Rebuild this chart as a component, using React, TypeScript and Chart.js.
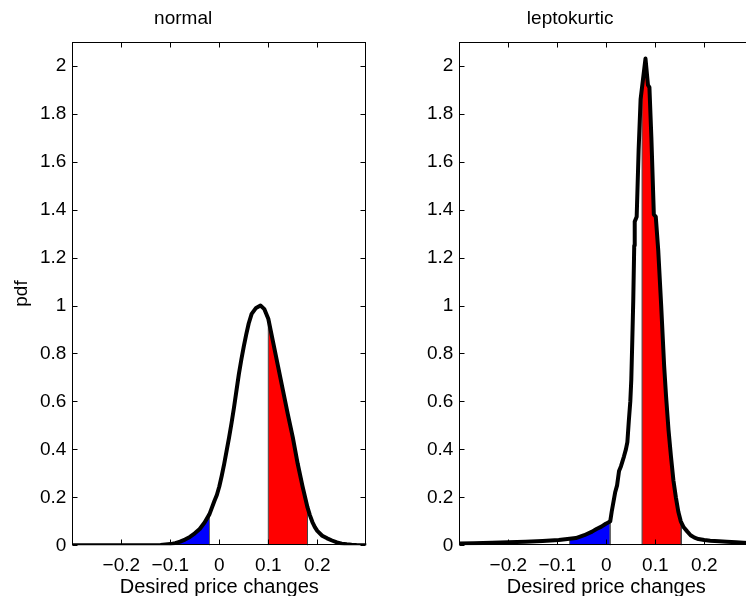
import React, { useEffect, useRef } from 'react';
import { Chart, registerables } from 'chart.js';

Chart.register(...registerables);

// ---- data ----
const titles = ['normal', 'leptokurtic'];
const xLabel = 'Desired price changes';
const yLabel = 'pdf';
const xTicks = [-0.2, -0.1, 0, 0.1, 0.2];
const yTicks = [0, 0.2, 0.4, 0.6, 0.8, 1, 1.2, 1.4, 1.6, 1.8, 2];

const normX = [-0.3, -0.2, -0.15, -0.12, -0.11, -0.1, -0.09, -0.08, -0.07, -0.06, -0.05, -0.04, -0.03, -0.02, -0.01, -0.005, 0, 0.005, 0.01, 0.015, 0.02, 0.025, 0.03, 0.035, 0.04, 0.045, 0.05, 0.055, 0.06, 0.066, 0.075, 0.084, 0.092, 0.1, 0.105, 0.11, 0.115, 0.12, 0.13, 0.14, 0.15, 0.16, 0.17, 0.18, 0.185, 0.19, 0.195, 0.2, 0.21, 0.22, 0.23, 0.24, 0.25, 0.26, 0.27, 0.28, 0.3];
const normY = [0, 0, 0, 0.001, 0.003, 0.005, 0.009, 0.015, 0.024, 0.035, 0.05, 0.068, 0.095, 0.13, 0.185, 0.21, 0.245, 0.29, 0.34, 0.395, 0.45, 0.51, 0.575, 0.645, 0.715, 0.775, 0.83, 0.88, 0.925, 0.965, 0.99, 1.0, 0.985, 0.945, 0.895, 0.845, 0.795, 0.745, 0.645, 0.545, 0.45, 0.34, 0.245, 0.158, 0.125, 0.097, 0.076, 0.06, 0.04, 0.029, 0.02, 0.012, 0.007, 0.004, 0.002, 0.001, 0];

const leptoX = [-0.3, -0.27, -0.233, -0.2, -0.165, -0.13, -0.097, -0.075, -0.062, -0.045, -0.029, -0.02, -0.01, -0.001, 0.004, 0.008, 0.011, 0.018, 0.022, 0.026, 0.03, 0.036, 0.04, 0.043, 0.046, 0.049, 0.051, 0.053, 0.055, 0.057, 0.058, 0.062, 0.066, 0.07, 0.08, 0.085, 0.088, 0.092, 0.097, 0.101, 0.106, 0.112, 0.118, 0.122, 0.127, 0.132, 0.137, 0.142, 0.147, 0.152, 0.158, 0.165, 0.172, 0.18, 0.188, 0.2, 0.212, 0.23, 0.246, 0.265, 0.28, 0.3];
const leptoY = [0.008, 0.009, 0.011, 0.013, 0.015, 0.018, 0.022, 0.027, 0.03, 0.042, 0.057, 0.068, 0.078, 0.09, 0.095, 0.1, 0.14, 0.22, 0.25, 0.31, 0.33, 0.37, 0.4, 0.43, 0.52, 0.6, 0.69, 0.85, 1.02, 1.25, 1.35, 1.37, 1.65, 1.86, 2.03, 1.92, 1.91, 1.7, 1.38, 1.37, 1.23, 1.0, 0.75, 0.62, 0.48, 0.37, 0.27, 0.2, 0.14, 0.1, 0.075, 0.058, 0.042, 0.032, 0.026, 0.022, 0.019, 0.017, 0.015, 0.013, 0.011, 0.009];

const normBlue = [-0.1, -0.02];
const normRed = [0.1, 0.18];
const leptoBlue = [-0.075, 0.008];
const leptoRed = [0.073, 0.153];

const FONT = 'Liberation Sans, Arial, Helvetica, sans-serif';

function interp(xs: number[], ys: number[], x: number): number {
  for (let i = 0; i < xs.length - 1; i++) {
    if (x >= xs[i] && x <= xs[i + 1]) {
      const t = (x - xs[i]) / (xs[i + 1] - xs[i]);
      return ys[i] + t * (ys[i + 1] - ys[i]);
    }
  }
  return 0;
}

function region(xs: number[], ys: number[], r: number[]) {
  const [a, b] = r;
  const pts: { x: number; y: number }[] = [{ x: a, y: 0 }, { x: a, y: interp(xs, ys, a) }];
  xs.forEach((x, i) => {
    if (x > a && x < b) pts.push({ x, y: ys[i] });
  });
  pts.push({ x: b, y: interp(xs, ys, b) }, { x: b, y: 0 });
  return pts;
}

const boxPlugin = {
  id: 'matlabBox',
  afterDraw(chart: any) {
    const { ctx, chartArea: a, scales } = chart;
    ctx.save();
    ctx.strokeStyle = '#000';
    ctx.lineWidth = 1;
    const L = Math.round(a.left) + 0.5;
    const R = Math.round(a.right) - 0.5;
    const T = Math.round(a.top) + 0.5;
    const B = Math.round(a.bottom) - 0.5;
    ctx.strokeRect(L, T, R - L, B - T);
    ctx.beginPath();
    for (const t of scales.x.ticks) {
      const px = Math.round(scales.x.getPixelForValue(t.value)) + 0.5;
      ctx.moveTo(px, B); ctx.lineTo(px, B - 5);
      ctx.moveTo(px, T); ctx.lineTo(px, T + 5);
    }
    for (const t of scales.y.ticks) {
      const py = Math.round(scales.y.getPixelForValue(t.value)) + 0.5;
      ctx.moveTo(L, py); ctx.lineTo(L + 5, py);
      ctx.moveTo(R, py); ctx.lineTo(R - 5, py);
    }
    ctx.stroke();
    ctx.restore();
  },
};

function fmtX(v: number) {
  if (Math.abs(v) < 1e-9) return '0';
  return (v < 0 ? '\u2212' : '') + Math.abs(v).toFixed(1);
}
function fmtY(v: number) {
  return String(Number(v.toFixed(1)));
}

function makeConfig(title: string, xs: number[], ys: number[], blue: number[], red: number[], showYLabel: boolean): any {
  const font = { family: FONT, size: 19, weight: 'normal' as const };
  return {
    type: 'line',
    data: {
      datasets: [
        {
          data: xs.map((x, i) => ({ x, y: ys[i] })),
          borderColor: '#000',
          borderWidth: 4,
          pointRadius: 0,
          tension: 0,
          fill: false,
          borderJoinStyle: 'round',
          borderCapStyle: 'round',
        },
        {
          data: region(xs, ys, red),
          borderColor: '#444',
          borderWidth: 1,
          backgroundColor: '#ff0000',
          pointRadius: 0,
          tension: 0,
          fill: 'origin',
        },
        {
          data: region(xs, ys, blue),
          borderColor: '#666',
          borderWidth: 1,
          backgroundColor: '#0000ff',
          pointRadius: 0,
          tension: 0,
          fill: 'origin',
        },
      ],
    },
    options: {
      responsive: false,
      animation: false,
      events: [],
      layout: { padding: { left: 0, right: 3.7, top: 0, bottom: 0 } },
      plugins: {
        legend: { display: false },
        tooltip: { enabled: false },
        title: {
          display: true,
          text: title,
          color: '#000',
          font,
          padding: { top: 7, bottom: 12 },
        },
      },
      scales: {
        x: {
          type: 'linear',
          min: -0.3,
          max: 0.3,
          afterBuildTicks: (s: any) => { s.ticks = xTicks.map((v) => ({ value: v })); },
          afterFit: (s: any) => { s.height = 50.7; },
          ticks: { callback: (v: any) => fmtX(Number(v)), color: '#000', font, padding: 9, autoSkip: false, maxRotation: 0 },
          grid: { display: false, drawTicks: false },
          border: { display: false },
          title: { display: true, text: xLabel, color: '#000', font: { ...font, size: 20, lineHeight: 0.85 }, padding: { top: 0, bottom: 0 } },
        },
        y: {
          type: 'linear',
          min: 0,
          max: 2.1,
          afterBuildTicks: (s: any) => { s.ticks = yTicks.map((v) => ({ value: v })); },
          afterFit: (s: any) => { s.width = 72.3; },
          ticks: { callback: (v: any) => fmtY(Number(v)), color: '#000', font, padding: 6, autoSkip: false },
          grid: { display: false, drawTicks: false },
          border: { display: false },
          title: { display: showYLabel, text: yLabel, color: '#000', font, padding: { top: 10.5, bottom: 0 } },
        },
      },
    },
    plugins: [boxPlugin],
  };
}

function Panel(props: { left: number; cfg: any }) {
  const ref = useRef<HTMLCanvasElement | null>(null);
  useEffect(() => {
    if (!ref.current) return;
    const chart = new Chart(ref.current, props.cfg);
    return () => chart.destroy();
  }, []);
  return (
    <canvas
      ref={ref}
      width={370}
      height={596}
      style={{ position: 'absolute', left: props.left, top: 0, width: 370, height: 596 }}
    />
  );
}

export default function App() {
  return (
    <div style={{ position: 'fixed', left: 0, top: 0, width: 746, height: 596, overflow: 'hidden', background: '#fff' }}>
      <Panel left={0} cfg={makeConfig(titles[0], normX, normY, normBlue, normRed, true)} />
      <Panel left={387} cfg={makeConfig(titles[1], leptoX, leptoY, leptoBlue, leptoRed, false)} />
    </div>
  );
}
